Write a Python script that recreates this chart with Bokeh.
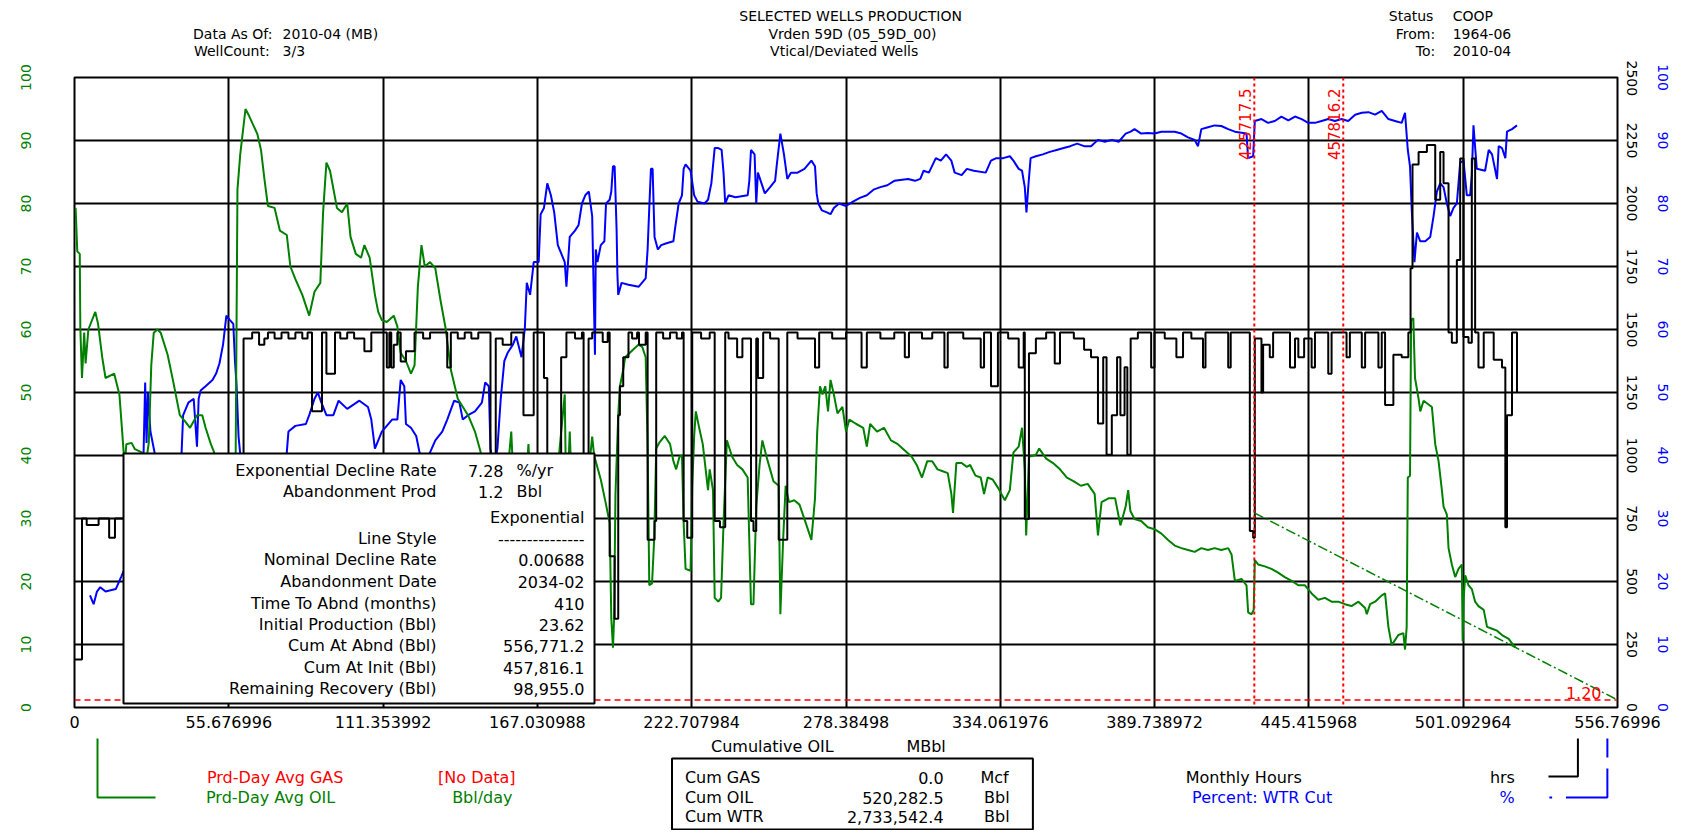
import math
from bokeh.plotting import figure
from bokeh.layouts import column
from bokeh.models import Range1d, LinearAxis, FixedTicker, Span, Label, BoxAnnotation
from bokeh.core.properties import value
from bokeh.embed import file_html
from bokeh.resources import INLINE

FONT = "DejaVu Sans"

# ---------------- data ----------------
x_ticks = [0, 55.676996, 111.353992, 167.030988, 222.707984, 278.38498,
           334.061976, 389.738972, 445.415968, 501.092964, 556.76996]
x_tick_labels = ["0", "55.676996", "111.353992", "167.030988", "222.707984", "278.38498",
                 "334.061976", "389.738972", "445.415968", "501.092964", "556.76996"]
rate_ticks = [0, 10, 20, 30, 40, 50, 60, 70, 80, 90, 100]
hrs_ticks = [0, 250, 500, 750, 1000, 1250, 1500, 1750, 2000, 2250, 2500]
pct_ticks = [0, 10, 20, 30, 40, 50, 60, 70, 80, 90, 100]

# Prd-Day Avg OIL (Bbl/day) vs cumulative oil (MBbl)
oil_cum = [0.4, 1.0, 1.9, 2.1, 2.7, 3.5, 4.0, 5.0, 7.5, 8.5, 10.0, 11.2, 14.3, 16.2, 17.2, 18.1,
           18.7, 20.6, 21.8, 24.3, 25.5, 26.8, 27.7, 28.6, 29.9, 31.1, 33.6, 35.5, 38.0, 39.9,
           41.7, 44.2, 46.1, 47.3, 49.2, 50.4, 52.0, 55.0, 58.0, 58.8, 59.8, 61.7, 62.9, 66.0,
           67.3, 68.5, 69.8, 72.2, 74.1, 76.6, 77.9, 79.7, 82.2, 84.7, 86.6, 88.7, 89.7, 90.9,
           92.2, 94.7, 96.5, 98.4, 99.6, 101.5, 103.4, 104.6, 106.5, 108.4, 109.6, 110.9, 112.7,
           115.2, 116.5, 117.7, 119.6, 121.4, 122.7, 123.9, 125.2, 126.4, 128.3, 130.2, 132.0,
           133.9, 135.8, 138.3, 142.0, 144.5, 146.4, 149.0, 152.0, 155.0, 157.6, 159.0, 162.0,
           163.8, 165.0, 168.0, 172.0, 176.9, 177.5, 178.7, 180.0, 183.0, 185.0,
           186.8, 187.5, 189.9, 191.8, 193.1, 193.7, 194.3, 194.7, 195.2, 196.2, 196.8, 198.0,
           198.7, 201.8, 203.6, 204.9, 206.1, 206.8, 207.4, 208.4, 209.2, 209.9, 211.1, 213.0,
           214.9, 216.1, 217.1, 218.3, 219.2, 219.8, 220.5, 222.3, 222.9, 223.6, 224.2, 225.4,
           226.7, 227.9, 228.6, 229.2, 230.4, 231.0, 232.3, 233.3, 234.2, 235.4, 237.3, 239.1,
           241.0, 242.9, 244.1, 245.0, 246.0, 247.2, 248.2, 249.7, 251.0, 252.2, 254.1, 254.7,
           255.7, 256.6, 257.8, 259.7, 261.6, 263.4, 265.9, 267.2, 268.0, 269.0, 269.9, 270.9,
           271.9, 272.8, 274.0, 275.3, 277.1, 278.4, 279.6, 282.1, 284.6, 285.9, 287.1, 289.6,
           292.1, 294.6, 297.1, 299.6, 302.1, 303.9, 305.8, 307.7, 309.5, 311.4, 313.3, 315.1,
           316.4, 317.0, 318.2, 320.1, 322.0, 323.2, 325.1, 327.0, 328.2, 329.5, 331.3, 333.2,
           335.7, 337.5, 338.8, 340.7, 341.9, 342.9, 343.4, 344.4, 346.9, 348.1, 350.6, 353.1,
           355.6, 358.1, 360.6, 363.1, 365.6, 368.1, 369.3, 370.6, 373.1, 375.5, 377.4, 379.3,
           380.2, 381.0, 382.5, 384.9, 387.3, 389.7, 392.2, 394.6, 397.0, 399.4, 401.8, 404.2,
           406.6, 409.0, 411.4, 413.8, 416.3, 417.5, 418.7, 421.1, 422.9, 423.5, 424.7, 425.5,
           425.9, 427.1, 429.5, 431.9, 434.3, 436.7, 439.2, 441.6, 444.0, 446.4, 448.8, 451.2,
           453.6, 456.0, 458.4, 460.8, 463.3, 465.7, 466.3, 467.5, 469.3, 471.7, 472.9, 474.1,
           475.3, 477.7, 479.5, 480.1, 480.7, 481.1, 481.9, 482.3, 483.1, 483.7, 485.0, 485.6,
           486.8, 489.8, 491.0, 492.2, 493.4, 494.0, 495.2, 495.8, 497.0, 498.2, 499.4, 500.6,
           500.9, 501.2, 501.8, 503.0, 504.2, 505.4, 506.6, 508.5, 509.7, 511.5, 513.3, 515.1,
           517.5, 519.9]
oil_rate = [79.3, 72.4, 72.0, 60.2, 52.3, 59.5, 54.6, 60.0, 62.8, 60.9, 55.6, 52.3, 53.0, 49.7, 43.8, 38.2,
            41.8, 42.0, 41.0, 40.5, 38.0, 42.0, 54.3, 59.5, 60.0, 59.5, 56.0, 52.0, 46.4, 45.4,
            44.4, 46.4, 46.4, 44.4, 41.8, 40.5, 36.0, 33.0, 30.0, 82.2, 87.8, 95.0, 94.0, 91.0,
            88.5, 84.0, 79.6, 79.3, 75.7, 75.0, 70.0, 68.0, 65.5, 62.2, 66.0, 67.4, 78.6, 86.5,
            85.2, 79.3, 78.6, 80.0, 74.7, 72.0, 71.4, 73.4, 71.4, 65.5, 62.8, 61.5, 61.2,
            62.2, 60.5, 56.3, 55.0, 53.0, 54.3, 66.8, 73.4, 70.0, 70.7, 69.7, 64.8,
            60.2, 53.6, 49.0, 46.4, 43.8, 40.8, 36.0, 33.0, 31.0, 43.8, 30.0, 29.0,
            41.8, 30.0, 28.0, 27.0, 49.7, 30.0, 43.8, 28.0, 27.0, 35.0,
            43.0, 40.0, 36.2, 32.2, 29.3, 14.1, 9.5, 14.1, 33.9, 46.4, 51.0, 53.6,
            55.6, 56.9, 57.6, 57.2, 55.6, 41.4, 19.4, 19.7, 27.0, 41.1, 42.1, 43.1,
            41.8, 39.1, 37.8, 39.8, 40.0, 29.3, 22.0, 21.7, 35.2, 43.1, 47.0, 44.4,
            41.8, 37.2, 34.5, 37.8, 34.5, 17.4, 16.8, 17.4, 29.3, 42.4, 39.8, 38.5,
            37.8, 36.5, 16.4, 16.4, 31.9, 38.5, 42.4, 39.8, 37.8, 35.9, 35.2, 14.8,
            26.6, 35.2, 32.6, 32.9, 32.2, 29.9, 26.6, 33.2, 43.8, 51.0, 49.7, 51.0,
            47.0, 52.0, 49.7, 46.7, 47.7, 43.8, 45.7, 45.0, 44.4, 41.4, 45.0, 43.8,
            44.4, 42.4, 41.8, 40.8, 39.8, 38.5, 36.5, 39.1, 39.1, 37.8, 37.5, 37.2,
            33.9, 30.9, 38.8, 38.8, 38.2, 38.5, 36.8, 36.5, 33.9, 36.5, 36.2, 34.9,
            32.9, 34.5, 40.5, 41.4, 44.4, 37.8, 27.3, 39.8, 40.1, 41.1, 39.5, 38.8,
            37.8, 36.5, 35.9, 35.2, 35.5, 33.9, 27.3, 32.6, 33.2, 33.2, 28.9, 31.9,
            34.5, 31.2, 29.9, 29.6, 28.6, 28.3, 27.6, 26.6, 25.7, 25.3, 25.0, 24.7,
            25.3, 25.0, 25.3, 25.0, 25.3, 24.3, 20.1, 20.4, 19.4, 15.1, 14.8, 15.5,
            23.4, 22.7, 22.4, 22.0, 21.4, 20.7, 20.1, 19.4, 19.4, 18.1, 17.1, 17.4,
            16.8, 16.8, 16.4, 16.1, 16.8, 15.8, 14.8, 16.4, 16.8, 17.8, 18.1, 12.8,
            9.9, 11.5, 11.8, 9.2, 12.8, 36.5, 36.8, 61.5, 61.8, 52.3, 49.0, 47.0,
            48.7, 47.7, 41.8, 39.1, 34.5, 31.9, 30.6, 25.3, 22.7, 20.7, 22.0, 22.7,
            10.5, 16.8, 21.0, 19.4, 18.8, 16.8, 16.1, 15.5, 12.8, 12.5, 12.2, 11.5,
            10.9, 9.5]

# Percent WTR Cut (%)
wtr_cum = [5.6, 6.9, 8.1, 9.3, 11.2, 14.9, 16.8, 20.0, 24.0, 24.9, 25.5, 26.0, 26.5, 27.4,
           30.0, 34.0, 38.6, 39.2, 41.1, 43.0, 44.2, 44.8, 45.5, 47.3, 49.8, 51.1, 52.3, 53.6,
           54.8, 56.1, 57.3, 57.9, 58.5, 59.2, 62.0, 66.0, 70.0, 75.0, 76.6, 77.2, 79.7, 83.5,
           84.7, 86.6, 87.8, 89.1, 90.9, 93.4, 95.3, 98.4, 102.8, 105.9, 107.1, 108.4, 110.9,
           114.6, 116.5, 117.7, 119.0, 119.6, 121.4, 123.3, 124.5, 126.0, 128.3, 130.2, 132.7,
           134.5, 137.0, 138.9, 140.1, 142.0, 144.5, 147.0, 148.2, 149.5, 150.1, 151.3, 152.6,
           153.8, 155.1, 156.3, 158.2, 159.4, 161.3, 162.5, 163.2, 164.4, 165.7, 167.5, 168.2,
           169.4, 170.6, 171.9, 173.1, 174.4, 176.9, 177.5, 178.7, 180.6, 181.9, 183.1, 184.3,
           185.6, 186.8, 187.8, 188.1, 188.7, 189.9, 191.2, 191.8, 193.1, 193.7, 194.3, 194.9,
           195.6, 195.9, 196.2, 197.4, 199.9, 203.6, 206.1, 206.8, 207.4, 208.0, 208.6, 209.3,
           210.5, 211.7, 213.6, 216.1, 216.7, 218.0, 219.2, 219.8, 220.5, 222.3, 223.6, 224.8,
           227.3, 228.6, 229.8, 231.0, 232.3, 233.5, 234.2, 234.8, 236.0, 238.5, 242.9, 243.5,
           244.1, 245.4, 246.0, 246.6, 247.9, 249.1, 251.0, 252.8, 253.5, 254.7, 256.0, 257.2,
           258.5, 260.9, 263.4, 265.9, 267.2, 267.8, 268.4, 269.7, 271.5, 272.8, 274.0, 275.9,
           278.4, 280.9, 283.4, 285.9, 288.3, 290.8, 293.3, 295.8, 300.8, 303.3, 305.2, 306.4,
           308.3, 310.8, 312.6, 314.5, 316.4, 317.6, 320.1, 322.0, 324.5, 328.8, 330.7, 332.6,
           335.1, 337.5, 338.8, 340.7, 341.9, 342.9, 343.5, 344.2, 345.0, 346.9, 349.4, 351.9,
           354.4, 356.9, 359.3, 361.8, 364.3, 366.8, 369.3, 371.8, 374.3, 376.8, 379.3, 381.1,
           382.5, 384.9, 387.3, 389.7, 392.2, 397.0, 399.4, 401.8, 404.2, 405.4, 406.6, 409.0,
           411.4, 413.8, 416.3, 418.7, 422.9, 423.5, 425.3, 425.9, 428.3, 430.7, 433.1, 435.5,
           438.0, 440.4, 442.8, 445.2, 447.6, 450.0, 452.4, 454.8, 457.2, 459.6, 462.1, 464.5,
           466.9, 469.3, 471.7, 474.1, 476.5, 478.9, 480.1, 481.1, 481.9, 482.5, 483.5, 484.4,
           485.6, 487.4, 489.2, 490.4, 491.6, 492.8, 494.0, 495.2, 496.4, 497.6, 498.8, 500.0,
           501.2, 502.4, 503.6, 504.2, 504.8, 506.0, 509.0, 510.3, 511.5, 513.3, 513.9, 515.1,
           516.3, 516.9, 518.7, 520.5]
wtr_cut = [17.8, 16.4, 18.4, 19.1, 18.4, 18.8, 20.7, 24.0, 30.0, 40.0, 51.6, 42.0, 50.0, 43.8,
           38.0, 34.0, 40.0, 46.4, 48.4, 49.0, 41.4, 49.0, 50.3, 51.0, 52.0, 53.0, 54.6, 57.6,
           62.2, 61.5, 60.9, 55.0, 51.0, 43.0, 30.0, 25.0, 28.0, 35.0, 40.5, 43.8, 44.7, 45.0,
           46.4, 49.0, 50.0, 48.4, 46.4, 46.4, 48.7, 47.4, 48.7, 47.7, 45.7, 41.1, 43.8,
           45.7, 45.7, 52.0, 51.0, 45.0, 44.4, 43.1, 40.5, 38.0, 40.5, 42.4, 43.8,
           45.7, 48.7, 48.4, 45.7, 46.4, 47.0, 48.4, 51.6, 51.0, 41.1, 38.0, 41.1,
           49.0, 55.0, 56.3, 57.6, 58.9, 55.6, 60.2, 67.4, 65.5, 70.7, 70.7, 78.3,
           79.3, 83.2, 81.3, 78.6, 73.4, 70.7, 66.8, 74.7, 75.7, 76.6, 80.0, 81.3,
           81.9, 78.0, 56.0, 72.7, 70.7, 73.4, 74.0, 80.0, 80.6, 81.9, 85.9, 85.9,
           76.0, 68.8, 65.5, 67.4, 67.1, 66.8, 68.1, 72.7, 79.3, 85.5, 85.5, 74.7,
           72.7, 73.4, 73.7, 74.0, 76.0, 80.0, 81.3, 85.5, 86.2, 85.2, 81.3, 80.3,
           80.0, 80.6, 83.2, 88.8, 88.8, 88.5, 84.9, 80.0, 81.3, 81.0, 81.3, 83.6,
           88.5, 87.8, 80.0, 84.9, 83.2, 81.6, 82.6, 83.6, 86.5, 91.1, 87.8, 83.9,
           84.9, 84.9, 85.5, 86.8, 85.9, 81.6, 80.0, 78.9, 78.6, 78.3, 79.3, 80.0,
           79.6, 80.3, 80.9, 81.3, 82.2, 82.6, 82.9, 83.6, 83.9, 83.6, 83.9, 85.2,
           84.9, 87.2, 86.8, 87.8, 86.8, 84.9, 84.5, 85.5, 85.2, 84.9, 86.8, 87.2,
           87.2, 87.5, 86.8, 85.5, 85.2, 82.6, 78.6, 82.9, 87.2, 87.5, 87.8, 88.2,
           88.5, 88.8, 89.1, 89.5, 89.1, 89.1, 90.1, 89.8, 90.1, 89.8, 91.1, 91.4,
           91.8, 91.1, 91.2, 91.1, 91.4, 91.4, 91.1, 90.5, 90.1, 89.1, 91.8, 92.1,
           92.4, 92.3, 91.8, 91.4, 91.1, 87.2, 87.5, 93.1, 93.4, 92.8, 93.1, 93.8,
           93.2, 93.8, 93.4, 92.8, 92.8, 93.1, 93.4, 93.1, 93.4, 93.1, 94.1, 94.4,
           94.5, 94.1, 94.7, 93.4, 93.1, 92.8, 94.4, 88.5, 85.9, 79.3, 70.7, 75.4,
           74.0, 74.0, 74.7, 78.0, 81.9, 83.2, 82.6, 80.0, 78.0, 79.3, 80.0, 86.5,
           86.8, 81.3, 81.3, 84.5, 92.4, 85.5, 85.2, 88.5, 87.8, 83.9, 89.1, 88.8,
           87.2, 91.4, 91.8, 92.4]

# Monthly Hours (hrs)
hrs_cum = [0.0, 2.7, 4.4, 8.7, 12.5, 14.6, 30.0, 45.0, 61.0, 64.1, 66.6, 68.5, 69.8, 72.2, 74.7,
           77.2, 79.7, 82.2, 84.1, 85.7, 89.3, 90.9, 94.0, 95.9, 98.4, 100.9, 104.6, 107.1,
           112.7, 113.6, 114.3, 115.2, 116.5, 117.7, 119.6, 122.7, 125.8, 128.3, 134.5, 135.8,
           138.3, 140.8, 143.2, 145.7, 150.1, 152.0, 154.5, 157.6, 162.0, 165.7, 169.4, 170.6,
           175.6, 177.5, 180.6, 183.1, 183.7, 185.5, 186.8, 190.6, 192.4, 193.1, 194.9, 196.2,
           196.8, 198.0, 199.9, 201.2, 203.0, 203.7, 206.1, 206.8, 209.3, 209.9, 212.4, 214.9,
           217.3, 219.2, 219.8, 221.1, 222.9, 226.1, 229.2, 231.0, 232.9, 234.8, 236.0, 239.1,
           241.0, 244.1, 245.0, 246.0, 246.6, 248.5, 251.0, 254.1, 257.2, 260.9, 267.2, 268.7,
           273.4, 278.4, 284.0, 285.9, 290.8, 295.8, 299.6, 301.1, 305.8, 309.5, 313.9, 315.1,
           320.7, 327.0, 328.2, 330.7, 333.2, 336.9, 340.7, 342.5, 342.9, 344.4, 346.9, 350.6,
           353.7, 355.6, 360.6, 364.3, 366.8, 369.3, 371.2, 372.4, 374.3, 376.2, 377.4, 378.9,
           379.9, 381.1, 383.7, 388.5, 389.7, 393.4, 397.6, 400.0, 403.0, 407.2, 408.1, 416.3,
           417.2, 424.1, 425.3, 425.9, 428.3, 428.9, 431.3, 432.5, 438.6, 440.4, 441.6, 443.7,
           446.4, 447.6, 452.4, 453.6, 459.0, 460.2, 464.5, 465.7, 470.5, 471.7, 472.9, 475.9,
           478.9, 481.3, 482.1, 482.8, 485.0, 488.0, 491.0, 492.8, 494.0, 495.8, 497.0, 498.8,
           500.0, 501.2, 503.0, 504.2, 505.4, 506.6, 508.5, 512.1, 515.1, 516.3, 516.9, 518.7,
           520.5]
hrs = [190, 750, 724, 750, 674, 750, 750, 750, 1464, 1488, 1439, 1464, 1488, 1464, 1488,
       1464, 1488, 1464, 1488, 1176, 1488, 1324, 1488, 1464, 1488, 1464, 1414, 1488,
       1349, 1488, 1349, 1439, 1488, 1373, 1414, 1488, 1464, 1488, 1349, 1488,
       1464, 1488, 1464, 1488, 700, 1464, 1439, 1488, 1160, 1488, 1308, 800,
       1390, 1488, 1464, 1488, 700, 1464, 1488, 1450, 1488, 600, 352, 1160,
       1275, 1390, 1488, 1464, 1488, 1439, 1488, 666, 740, 1488, 1464, 1488,
       1464, 1488, 740, 674, 1488, 1464, 1488, 740, 715, 1488, 1464, 1390,
       1464, 740, 700, 1464, 1308, 1488, 1464, 666, 1488, 1464, 1349, 1488,
       1464, 1488, 1349, 1488, 1464, 1488, 1390, 1488, 1464, 1488, 1349, 1488,
       1464, 1349, 1488, 1275, 1488, 1464, 1349, 1488, 748, 1406, 1464, 1488,
       1365, 1488, 1464, 1420, 1390, 1127, 1390, 1003, 1160, 1390, 1160, 1350,
       1003, 1464, 1488, 1349, 1488, 1464, 1390, 1488, 1464, 1349, 1488, 1349,
       1488, 700, 674, 1464, 1250, 1439, 1390, 1488, 1349, 1464, 1390, 1464,
       1349, 1488, 1324, 1488, 1390, 1488, 1349, 1488, 1349, 1488, 1200, 1400,
       1390, 1488, 1743, 2155, 2204, 2232, 2015, 2204, 2080, 1488, 1447, 1776,
       2179, 1470, 1447, 2179, 1488, 1349, 1488, 1380, 1349, 715, 1160, 1488,
       1250]

# exponential decline forecast
decline_cum = [425.7175, 556.7712]
decline_rate = [30.9, 1.2]
marker_cum = [425.7175, 457.8162]
marker_labels = ["425717.5", "457816.2"]
abandon_rate = 1.2

XMAX = 556.76996

# ---------------- layout (page pixels) ----------------
W = 1676
HDR_H = 60                  # header strip 0..60
MAIN_TOP, MAIN_BOT = 60, 735
FTR_H = 830 - MAIN_BOT      # footer strip 735..830
X0, X1, Y0, Y1 = 74, 1617, 77, 707   # plot frame on the page

p = figure(width=W, height=MAIN_BOT - MAIN_TOP, x_range=Range1d(0, XMAX), y_range=Range1d(0, 100),
           output_backend="svg", toolbar_location=None,
           min_border_left=X0, min_border_right=W - X1,
           min_border_top=Y0 - MAIN_TOP, min_border_bottom=MAIN_BOT - Y1)
p.background_fill_color = "white"
p.border_fill_color = "white"
p.outline_line_color = "black"
p.outline_line_width = 2
p.outline_line_alpha = 1

p.extra_y_ranges = {"hrs": Range1d(0, 2500), "pct": Range1d(0, 100)}


def style_axis(ax, color, orient, standoff, size="14px"):
    ax.axis_line_color = None
    ax.major_tick_line_color = None
    ax.minor_tick_line_color = None
    ax.major_tick_out = 0
    ax.major_tick_in = 0
    ax.minor_tick_out = 0
    ax.minor_tick_in = 0
    ax.major_label_text_color = color
    ax.major_label_text_font = FONT
    ax.major_label_text_font_size = size
    ax.major_label_orientation = orient
    ax.major_label_standoff = standoff


xax = p.xaxis[0]
xax.ticker = FixedTicker(ticks=x_ticks)
xax.major_label_overrides = {t: s for t, s in zip(x_ticks, x_tick_labels)}
style_axis(xax, "black", "horizontal", 8, size="16px")

yax = p.yaxis[0]
yax.ticker = FixedTicker(ticks=rate_ticks)
style_axis(yax, "#008000", "vertical", 44)

ax_h = LinearAxis(y_range_name="hrs", ticker=FixedTicker(ticks=hrs_ticks))
style_axis(ax_h, "black", "vertical", 9)
p.add_layout(ax_h, "right")
ax_p = LinearAxis(y_range_name="pct", ticker=FixedTicker(ticks=pct_ticks))
style_axis(ax_p, "#0000FF", "vertical", 18)
p.add_layout(ax_p, "right")

p.xgrid.ticker = FixedTicker(ticks=x_ticks)
p.ygrid.ticker = FixedTicker(ticks=rate_ticks)
for g in (p.xgrid, p.ygrid):
    g.grid_line_color = "black"
    g.grid_line_width = 2
    g.grid_line_alpha = 1

# series
p.line(wtr_cum, wtr_cut, y_range_name="pct", line_color="#0000FF", line_width=2)
p.line(oil_cum, oil_rate, line_color="#008000", line_width=2)
p.step(hrs_cum, hrs, y_range_name="hrs", mode="after", line_color="black", line_width=2)
p.line(decline_cum, decline_rate, line_color="#008000", line_width=1.5, line_dash="10 3 2 3")

for mx in marker_cum:
    p.add_layout(Span(location=mx, dimension="height", line_color="red",
                      line_dash="3 3", line_width=2))
p.add_layout(Span(location=abandon_rate, dimension="width", line_color="red",
                  line_dash="6 4", line_width=1.5))


def dx(px):
    return (px - X0) / (X1 - X0) * XMAX


def dy(py):
    return (Y1 - py) / (Y1 - Y0) * 100.0


def ptxt(px, py, text, color="black", align="left", size="16px"):
    p.add_layout(Label(x=dx(px), y=dy(py), text=text, text_align=align,
                       text_baseline="middle", text_color=color, text_font=FONT,
                       text_font_size=size))


for mx, ml in zip(marker_cum, marker_labels):
    p.add_layout(Label(x=mx, y=dy(88), text=ml, angle=math.pi / 2, text_align="right",
                       text_baseline="bottom", text_color="red", text_font=FONT,
                       text_font_size="15px", x_offset=-3))
p.add_layout(Label(x=dx(1601), y=abandon_rate, text="1.20", text_align="right",
                   text_baseline="bottom", text_color="red", text_font=FONT,
                   text_font_size="16px", y_offset=1))

# statistics box
p.add_layout(BoxAnnotation(left=dx(123), right=dx(594), top=dy(453), bottom=dy(703),
                           fill_color="white", fill_alpha=1, line_color="black",
                           line_width=2, line_alpha=1))
rows = [
    (470, "Exponential Decline Rate", None),
    (491, "Abandonment Prod", None),
    (517, None, "Exponential"),
    (538, "Line Style", "---------------"),
    (559, "Nominal Decline Rate", "0.00688"),
    (581, "Abandonment Date", "2034-02"),
    (603, "Time To Abnd (months)", "410"),
    (624, "Initial Production (Bbl)", "23.62"),
    (645, "Cum At Abnd (Bbl)", "556,771.2"),
    (667, "Cum At Init (Bbl)", "457,816.1"),
    (688, "Remaining Recovery (Bbl)", "98,955.0"),
]
for py, lab, val in rows:
    if lab:
        ptxt(436, py, lab, align="right")
    if val:
        ptxt(584, py, val, align="right")
ptxt(503, 470, "7.28", align="right")
ptxt(516, 470, "%/yr")
ptxt(503, 491, "1.2", align="right")
ptxt(516, 491, "Bbl")


# ---------------- header / footer strips ----------------
def strip(height):
    f = figure(width=W, height=height, x_range=Range1d(0, W), y_range=Range1d(height, 0),
               output_backend="svg", toolbar_location=None, min_border=0,
               x_axis_location=None, y_axis_location=None)
    f.outline_line_color = None
    f.background_fill_color = "white"
    f.border_fill_color = "white"
    f.xgrid.visible = False
    f.ygrid.visible = False
    return f


def stxt(f, px, py, text, color="black", align="center", size="15px"):
    f.text(x=[px], y=[py], text=[text], text_align=align, text_baseline="middle",
           text_color=color, text_font=value(FONT), text_font_size=size)


hdr = strip(HDR_H)
HS = "14px"
stxt(hdr, 843, 15, "SELECTED WELLS PRODUCTION", size=HS)
stxt(hdr, 845, 33, "Vrden 59D (05_59D_00)", size=HS)
stxt(hdr, 836, 50, "Vtical/Deviated Wells", size=HS)
stxt(hdr, 215, 33, "Data As Of:", align="right", size=HS)
stxt(hdr, 226, 33, "2010-04 (MB)", align="left", size=HS)
stxt(hdr, 212, 50, "WellCount:", align="right", size=HS)
stxt(hdr, 226, 50, "3/3", align="left", size=HS)
stxt(hdr, 1476, 15, "Status", align="right", size=HS)
stxt(hdr, 1497, 15, "COOP", align="left", size=HS)
stxt(hdr, 1478, 33, "From:", align="right", size=HS)
stxt(hdr, 1497, 33, "1964-06", align="left", size=HS)
stxt(hdr, 1478, 50, "To:", align="right", size=HS)
stxt(hdr, 1497, 50, "2010-04", align="left", size=HS)

ftr = strip(FTR_H)
o = MAIN_BOT


def ft(px, py, text, color="black", align="center"):
    stxt(ftr, px, py - o, text, color=color, align=align, size="16px")


ft(758, 746, "Cumulative OIL")
ft(925, 746, "MBbl")

ft(218, 777, "Prd-Day Avg GAS", color="red")
ft(437, 777, "[No Data]", color="red")
ft(213, 797, "Prd-Day Avg OIL", color="#008000")
ft(443, 797, "Bbl/day", color="#008000")
ft(1270, 777, "Monthly Hours")
ft(1551, 777, "hrs")
ft(1290, 797, "Percent: WTR Cut", color="#0000FF")
ft(1556, 797, "%", color="#0000FF")

ftr.quad(left=[649], right=[1041], top=[758 - o], bottom=[829 - o],
         fill_color="white", line_color="black", line_width=2)
ft(663, 777, "Cum GAS", align="left")
ft(944, 777, "0.0", align="right")
ft(984, 777, "Mcf", align="left")
ft(663, 797, "Cum OIL", align="left")
ft(944, 797, "520,282.5", align="right")
ft(988, 797, "Bbl", align="left")
ft(663, 816, "Cum WTR", align="left")
ft(944, 816, "2,733,542.4", align="right")
ft(988, 816, "Bbl", align="left")

# axis brackets
ftr.line([25, 25, 88], [738 - o, 797 - o, 797 - o], line_color="#008000", line_width=2)
ftr.line([1633, 1633, 1601], [738 - o, 776 - o, 776 - o], line_color="black", line_width=2)
ftr.line([1665, 1665], [738 - o, 757 - o], line_color="#0000FF", line_width=2)
ftr.line([1665, 1665, 1620], [768 - o, 797 - o, 797 - o], line_color="#0000FF", line_width=2)
ftr.line([1602, 1605], [797 - o, 797 - o], line_color="#0000FF", line_width=2)

layout = column(hdr, p, ftr, spacing=0)
open("out.html", "w").write(file_html(layout, INLINE))
